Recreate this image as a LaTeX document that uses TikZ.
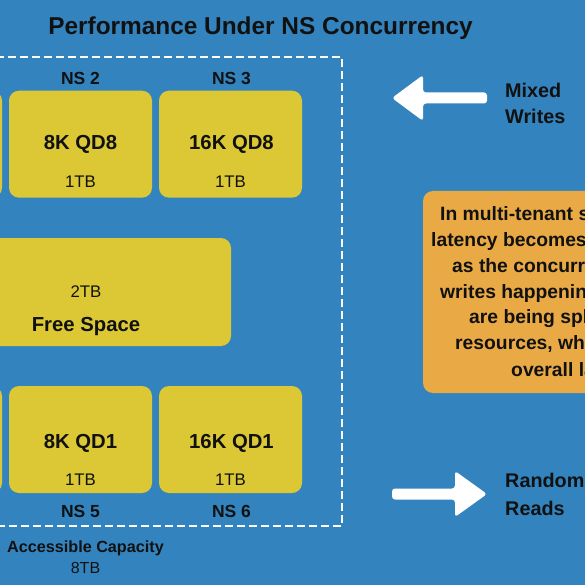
\documentclass[tikz,border=0pt]{standalone}
\usepackage{fontspec}
\setmainfont{Liberation Sans}
\definecolor{bg}{HTML}{3384BE}
\definecolor{yel}{HTML}{DBC834}
\definecolor{org}{HTML}{E9AA46}
\definecolor{ink}{HTML}{111111}
\begin{document}
\begin{tikzpicture}[x=1pt,y=-1pt,
  ybox/.style={fill=yel, draw=none, rounded corners=10pt, inner sep=0pt, minimum width=143pt, minimum height=107pt},
  txt/.style={text=ink, inner sep=0pt, text depth=0pt},
  ttl/.style={txt, font=\fontsize{24.4}{28}\selectfont\bfseries, text height=17.5pt},
  nslab/.style={txt, font=\fontsize{17.5}{20}\selectfont\bfseries, text height=12.5pt},
  big/.style={txt, font=\fontsize{20.3}{24}\selectfont\bfseries, text height=14.5pt},
  captxt/.style={txt, font=\fontsize{16.8}{20}\selectfont, text height=12pt},
  acc/.style={txt, font=\fontsize{16.2}{20}\selectfont\bfseries, text height=11.6pt},
  side/.style={txt, anchor=west, font=\fontsize{19.8}{22}\selectfont\bfseries, text height=14.2pt},
  note/.style={txt, anchor=west, font=\fontsize{19.3}{22}\selectfont\bfseries, text height=13.6pt},
  bigarrow/.style={fill=white, rounded corners=3pt},
  dashbox/.style={draw=white, line width=2pt, dash pattern=on 8pt off 4pt}
]
\clip (0,0) rectangle (585,585);
\fill[bg] (0,0) rectangle (585,585);

% title
\node[ttl] (title) at (260.5,26) {Performance Under NS Concurrency};

% dashed capacity box
\draw[dashbox] (-160,57) -- (342,57) -- (342,526) -- (-160,526);

% top row
\node[ybox] (b1) at (-69.5,144.2) {};
\node[ybox] (b2) at (80.5,144.2) {};
\node[ybox] (b3) at (230.5,144.2) {};
\node[nslab] (l2) at (80.5,78) {NS 2};
\node[nslab] (l3) at (231.5,78) {NS 3};
\node[big] (t2) at (80.5,142.7) {8K QD8};
\node[big] (t3) at (231.5,142.7) {16K QD8};
\node[captxt] (c2) at (80.5,181) {1TB};
\node[captxt] (c3) at (230.5,181) {1TB};

% free space
\node[ybox, minimum width=290pt, minimum height=108pt] (free) at (86,292) {};
\node[captxt] (c4) at (86,291.7) {2TB};
\node[big] (t4) at (86,324) {Free Space};

% bottom row
\node[ybox] (b4) at (-69.5,439.5) {};
\node[ybox] (b5) at (80.5,439.5) {};
\node[ybox] (b6) at (230.5,439.5) {};
\node[big] (t5) at (80.5,441.7) {8K QD1};
\node[big] (t6) at (231.5,441.7) {16K QD1};
\node[captxt] (c5) at (80.5,479) {1TB};
\node[captxt] (c6) at (230.5,479) {1TB};
\node[nslab] (l5) at (80.5,511) {NS 5};
\node[nslab] (l6) at (231.5,511) {NS 6};

% accessible capacity
\node[acc] (acc) at (85.5,546.5) {Accessible Capacity};
\node[captxt, font=\fontsize{16}{20}\selectfont] (acc2) at (85.5,567.5) {8TB};

% arrows
\coordinate (mwT) at (392,98);
\coordinate (rrT) at (487,494);
\fill[bigarrow] (487,92.5) -- (423,92.5) -- (423,75) -- (mwT) -- (423,121) -- (423,103.5) -- (487,103.5) -- cycle;
\fill[bigarrow] (392,488.5) -- (455,488.5) -- (455,471) -- (rrT) -- (455,517) -- (455,499.5) -- (392,499.5) -- cycle;
\node[side] (mw1) at (505,90.7) {Mixed};
\node[side] (mw2) at (505,116.5) {Writes};
\node[side] (rr1) at (505,480.5) {Random};
\node[side] (rr2) at (505,508) {Reads};

% note box
\fill[org, rounded corners=10pt] (423,191) rectangle (760,393);
\node[note] (n1) at (440,214) {In multi-tenant systems,};
\node[note] (n2) at (431,240) {latency becomes a concern};
\node[note] (n3) at (452,266) {as the concurrent reads and};
\node[note] (n4) at (440,292) {writes happening on the drive};
\node[note] (n5) at (469,317) {are being split across};
\node[note] (n6) at (455,343) {resources, which affects};
\node[note] (n7) at (511,370) {overall latency.};
\end{tikzpicture}
\end{document}
